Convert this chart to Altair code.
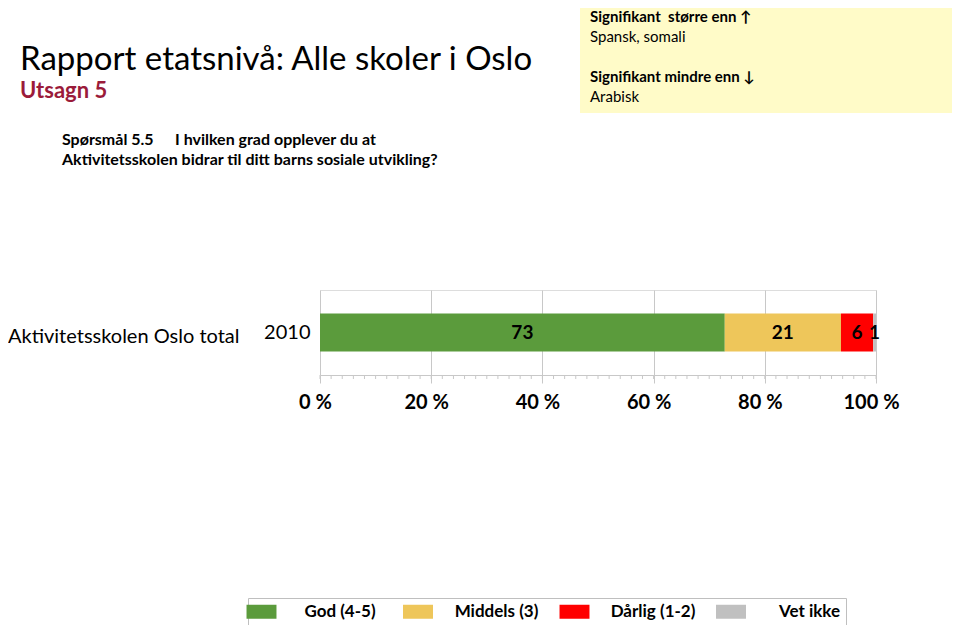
import altair as alt
import pandas as pd

# ---- data ----
categories = ["God (4-5)", "Middels (3)", "Dårlig (1-2)", "Vet ikke"]
values = [72.8, 20.9, 5.8, 0.5]
value_labels = ["73", "21", "6", "1"]
colors = ["#5B9B3C", "#EEC65A", "#FF0000", "#C0C0C0"]
group_label = "Aktivitetsskolen Oslo total"
year_label = "2010"
x_ticks = [0, 20, 40, 60, 80, 100]
minor_ticks = list(range(0, 101, 2))

title_text = "Rapport etatsnivå: Alle skoler i Oslo"
subtitle_text = "Utsagn 5"
question_head = "Spørsmål 5.5"
question_line1 = "I hvilken grad opplever du at"
question_line2 = "Aktivitetsskolen bidrar til ditt barns sosiale utvikling?"
box_lines = ["Signifikant\u00a0 større enn \u2191", "Spansk, somali", "Signifikant mindre enn \u2193", "Arabisk"]

FONT = "Lato"

df = pd.DataFrame({
    "year": [year_label] * len(categories),
    "answer": categories,
    "value": values,
    "label": value_labels,
    "idx": list(range(len(categories))),
})

W, H = 556, 85

xscale = alt.Scale(domain=[0, 100], nice=False, zero=True)

base = alt.Chart(df).transform_stack(
    stack="value", groupby=["year"], as_=["x0", "x1"], sort=[alt.SortField("idx")]
).transform_calculate(mid="(datum.x0 + datum.x1) / 2")

bars = base.mark_bar(size=38).encode(
    x=alt.X("x0:Q", scale=xscale,
            axis=alt.Axis(values=x_ticks, labelExpr="datum.value + ' %'", title=None,
                          grid=True, gridColor="#C8C8C8", domainColor="#C8C8C8",
                          tickColor="#C8C8C8", tickSize=8, labelPadding=9,
                          labelFlush=False, labelOffset=-5,
                          labelFont=FONT, labelFontSize=20, labelFontWeight="bold",
                          labelColor="#000000")),
    x2="x1:Q",
    y=alt.Y("year:N", axis=alt.Axis(title=None, ticks=False, domain=False, labelPadding=10,
                                     labelFont=FONT, labelFontSize=20, labelColor="#000000")),
    color=alt.Color("answer:N", scale=alt.Scale(domain=categories, range=colors),
                    legend=alt.Legend(title=None, orient="none", direction="horizontal",
                                      legendX=-72, legendY=308,
                                      symbolType="M-2.14,-1H2.14V1H-2.14Z", symbolSize=196,
                                      symbolStrokeWidth=0, symbolOpacity=1,
                                      labelFont=FONT, labelFontSize=17, labelFontWeight="bold",
                                      labelColor="#000000", labelAlign="center", labelOffset=70,
                                      columnPadding=19.5, gridAlign="all",
                                      strokeColor="#BFBFBF", padding=5)),
)

texts = base.mark_text(font=FONT, fontSize=19, fontWeight="bold", color="#000000").encode(
    x=alt.X("mid:Q", scale=xscale),
    y=alt.Y("year:N"),
    text="label:N",
)

tick_df = pd.DataFrame({"t": minor_ticks})
minor = alt.Chart(tick_df).mark_rule(color="#C8C8C8", strokeWidth=1).encode(
    x=alt.X("t:Q", scale=xscale),
    y=alt.value(H),
    y2=alt.value(H + 4),
)

def txt(s, x, y, size, weight="normal", color="#000000", baseline="alphabetic"):
    return alt.Chart(pd.DataFrame({"t": [s]})).mark_text(
        align="left", baseline=baseline, font=FONT, fontSize=size, fontWeight=weight, color=color
    ).encode(text="t:N", x=alt.value(x), y=alt.value(y))

box = alt.Chart(pd.DataFrame({"t": [0]})).mark_rect(color="#FFFBC8").encode(
    x=alt.value(260), x2=alt.value(640), y=alt.value(-290), y2=alt.value(-177)
)

layers = [
    box,
    txt(title_text, -300, -220, 33),
    txt(subtitle_text, -300, -192, 22, "bold", "#9B1B3A"),
    txt(box_lines[0], 270, -268, 15, "bold"),
    txt(box_lines[1], 270, -248, 15),
    txt(box_lines[2], 270, -208, 15, "bold"),
    txt(box_lines[3], 270, -188, 15),
    txt(question_head, -258, -145, 16, "bold"),
    txt(question_line1, -145, -145, 16, "bold"),
    txt(question_line2, -258, -125, 16, "bold"),
    txt(group_label, -312, 53, 20),
    minor,
    bars,
    texts,
]

chart = alt.layer(*layers).properties(
    width=W, height=H,
    autosize=alt.AutoSizeParams(type="none"),
    padding={"left": 312, "top": 282, "right": 76, "bottom": 250},
).configure_view(stroke="#C8C8C8").configure(background="white")

chart.save("out.html", embed_options={"renderer": "svg", "actions": False})
